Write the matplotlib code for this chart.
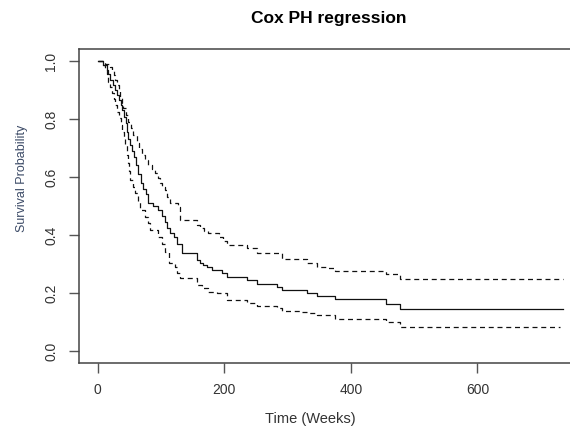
import matplotlib
matplotlib.use("Agg")
import matplotlib.pyplot as plt

# Kaplan-Meier style estimate from the Cox model
t_est = [0, 8, 14, 17, 20, 24, 27, 30, 33, 36, 38, 41, 44, 46, 48, 51, 54, 57, 60, 64,
         68, 72, 76, 80, 88, 96, 101, 106, 110, 114, 120, 125, 133, 157, 161, 166, 172,
         180, 196, 204, 236, 251, 283, 291, 330, 346, 375, 456, 478, 735]
s_est = [1.0, 0.986, 0.97, 0.955, 0.935, 0.917, 0.9, 0.883, 0.865, 0.848, 0.83, 0.808,
         0.785, 0.756, 0.73, 0.71, 0.69, 0.67, 0.64, 0.61, 0.58, 0.56, 0.54, 0.51, 0.5,
         0.486, 0.465, 0.446, 0.425, 0.406, 0.392, 0.37, 0.337, 0.314, 0.305, 0.297,
         0.288, 0.279, 0.268, 0.254, 0.245, 0.231, 0.22, 0.21, 0.201, 0.19, 0.179, 0.162,
         0.144, 0.144]

t_up = [0, 12, 19, 22, 25, 28, 30, 33, 35, 38, 40, 44, 48, 52, 56, 62, 66, 70, 75, 80,
        85, 90, 95, 98, 102, 106, 110, 114, 127, 130, 157, 162, 168, 175, 191, 198, 204,
        236, 251, 291, 330, 346, 360, 375, 456, 478, 735]
s_up = [1.0, 0.99, 0.98, 0.965, 0.952, 0.935, 0.917, 0.895, 0.871, 0.855, 0.837, 0.815,
        0.791, 0.77, 0.745, 0.716, 0.695, 0.676, 0.66, 0.641, 0.627, 0.613, 0.595, 0.578,
        0.565, 0.555, 0.53, 0.509, 0.498, 0.452, 0.435, 0.423, 0.415, 0.406, 0.394, 0.38,
        0.366, 0.354, 0.337, 0.316, 0.302, 0.291, 0.285, 0.277, 0.265, 0.247, 0.247]

t_lo = [0, 8, 11.5, 14, 17, 20, 22, 25, 27, 30, 33, 36, 38, 41, 43, 46, 48, 50, 51, 55,
        59, 63, 67, 75, 80, 83, 96, 101, 106, 112, 122, 126, 130, 157, 164, 175, 188,
        204, 236, 251, 283, 291, 320, 330, 346, 375, 456, 478, 730]
s_lo = [1.0, 0.985, 0.975, 0.955, 0.929, 0.91, 0.888, 0.868, 0.848, 0.825, 0.802, 0.78,
        0.756, 0.735, 0.71, 0.676, 0.65, 0.62, 0.59, 0.565, 0.544, 0.515, 0.486, 0.463,
        0.44, 0.417, 0.394, 0.37, 0.342, 0.302, 0.291, 0.27, 0.251, 0.228, 0.216, 0.204,
        0.199, 0.176, 0.167, 0.155, 0.147, 0.139, 0.136, 0.132, 0.123, 0.111, 0.1, 0.082,
        0.082]

x_ticks = [0, 200, 400, 600]
y_ticks = [0.0, 0.2, 0.4, 0.6, 0.8, 1.0]

plt.rcParams['font.family'] = ['Liberation Sans', 'DejaVu Sans']

fig = plt.figure(figsize=(5.7, 4.29), dpi=100)
# axes box runs past the right edge of the image, like the cropped original
ax = fig.add_axes([79 / 570, 1 - 362.6 / 429, (584.7 - 79) / 570, (362.6 - 49.4) / 429])

ax.step(t_est, s_est, where='post', color='#111111', lw=0.9)
ax.step(t_up, s_up, where='post', color='#111111', lw=0.9, ls=(0, (4, 3)))
ax.step(t_lo, s_lo, where='post', color='#111111', lw=0.9, ls=(0, (4, 3)))

ax.set_xlim(-29.6, 769.6)
ax.set_ylim(-0.04, 1.04)
ax.set_xticks(x_ticks)
ax.set_xticklabels([str(v) for v in x_ticks])
ax.set_yticks(y_ticks)
ax.set_yticklabels(['%.1f' % v for v in y_ticks], rotation=90, va='center')
ax.tick_params(direction='out', length=7, width=1, color='#555555',
               labelsize=10, labelcolor='#333333', pad=8)
for sp in ax.spines.values():
    sp.set_color('#444444')
    sp.set_linewidth(1.1)

fig.text(329 / 570, 1 - 19 / 429, 'Cox PH regression', ha='center', va='center',
         fontsize=12.5, fontweight='bold', color='black')
fig.text(310 / 570, 1 - 419 / 429, 'Time (Weeks)', ha='center', va='center',
         fontsize=10.5, color='#333333')
fig.text(22 / 570, 1 - 178 / 429, 'Survival Probability', ha='center', va='center',
         rotation=90, fontsize=9, color='#3b4a66', family=['Liberation Sans Narrow', 'Liberation Sans'])

fig.savefig('out.png', dpi=100)
